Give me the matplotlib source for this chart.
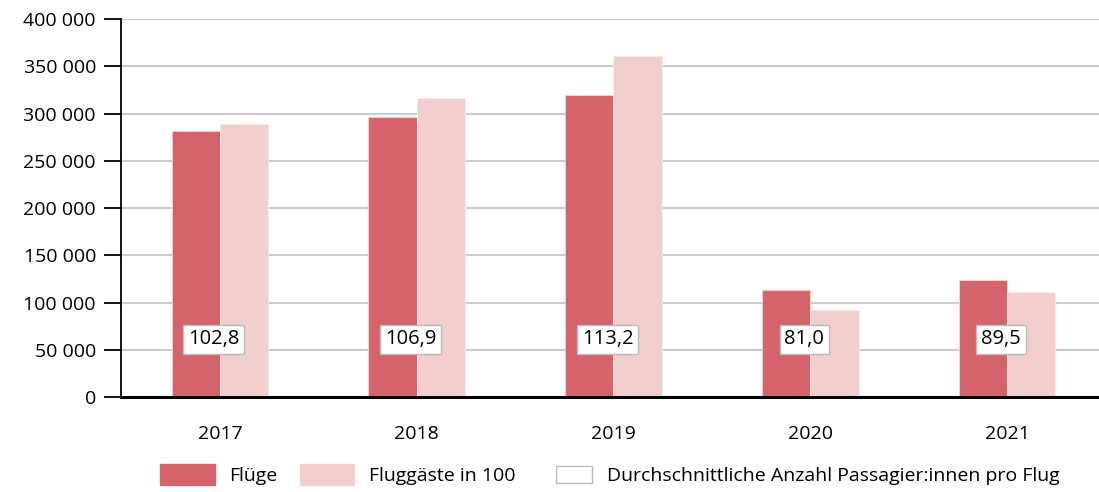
import matplotlib
matplotlib.use("Agg")
import matplotlib.pyplot as plt
import matplotlib.patches as mpatches
from matplotlib.legend_handler import HandlerPatch
import numpy as np

years = ["2017", "2018", "2019", "2020", "2021"]
fluege = [281200, 296300, 319300, 113800, 123800]
fluggaeste_100 = [289100, 316800, 361500, 92200, 110800]
avg_labels = ["102,8", "106,9", "113,2", "81,0", "89,5"]
y_ticks = [0, 50000, 100000, 150000, 200000, 250000, 300000, 350000, 400000]

C_FL = "#D4636B"
C_PAX = "#F2CECF"


class SmallBox(HandlerPatch):
    # kleineres Kästchen, rechtsbündig im Handle-Bereich
    def create_artists(self, legend, orig_handle, xdescent, ydescent, width, height, fontsize, trans):
        w, h = width * 0.66, height * 0.8
        p = mpatches.Rectangle((width - w - xdescent, -ydescent + (height - h) / 2), w, h,
                               facecolor="white", edgecolor="#BBBBBB", linewidth=1, transform=trans)
        return [p]


plt.rcParams.update({"font.family": ["Open Sans", "DejaVu Sans"], "font.size": 14})

fig = plt.figure(figsize=(10.99, 4.92), dpi=100, facecolor="white")
ax = fig.add_axes([0.110, 0.193, 0.890, 0.768])

x = np.arange(len(years))
w = 0.245
ax.bar(x - w / 2, fluege, width=w, color=C_FL, edgecolor="#F4D6D8", linewidth=0.6, zorder=2)
ax.bar(x + w / 2, fluggaeste_100, width=w, color=C_PAX, edgecolor="#FBEAEA", linewidth=0.6, zorder=2)

for xi, lab in zip(x, avg_labels):
    ax.text(xi - 0.03, 61000, lab, ha="center", va="center", fontsize=14.5, zorder=4,
            bbox=dict(boxstyle="square,pad=0.24", facecolor="white", edgecolor="#BBBBBB", linewidth=1))

ax.set_xlim(-0.503, 4.467)
ax.set_ylim(0, 400000)
ax.set_yticks(y_ticks)
ax.set_yticklabels([f"{v:,}".replace(",", " ") for v in y_ticks])
ax.set_xticks(x)
ax.set_xticklabels(years)
ax.yaxis.grid(True, color="#CCCCCC", linewidth=1.5, zorder=0)
ax.set_axisbelow(True)
for s in ["top", "right"]:
    ax.spines[s].set_visible(False)
ax.spines["left"].set_linewidth(1.3)
ax.spines["bottom"].set_linewidth(2.2)
ax.tick_params(axis="y", length=12, width=1.3, pad=6, labelsize=14)
ax.tick_params(axis="x", length=0, pad=20, labelsize=14)

avg_handle = mpatches.Patch(facecolor="white", edgecolor="#BBBBBB",
                            label="Durchschnittliche Anzahl Passagier:innen pro Flug")
handles = [mpatches.Patch(facecolor=C_FL, edgecolor=C_FL, label="Flüge"),
           mpatches.Patch(facecolor=C_PAX, edgecolor=C_PAX, label="Fluggäste in 100"),
           avg_handle]
fig.legend(handles=handles, loc="lower center", bbox_to_anchor=(0.555, -0.022), ncol=3, frameon=False,
           fontsize=14, handlelength=2.8, handleheight=1.3, columnspacing=1.15, handletextpad=0.75,
           handler_map={avg_handle: SmallBox()})

fig.savefig("out.png", dpi=100, facecolor="white")
